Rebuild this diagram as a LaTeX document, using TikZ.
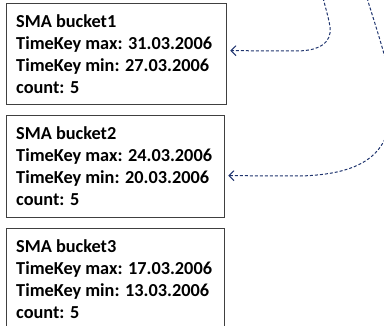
\documentclass[tikz,border=0pt]{standalone}
\usepackage{fontspec}
\setmainfont{Carlito}
\usetikzlibrary{arrows.meta}
\definecolor{linkblue}{RGB}{31,52,110}
\definecolor{framegray}{RGB}{64,64,64}
\tikzset{
  bucket/.style={draw=framegray, line width=1.3pt, anchor=north west, inner sep=0pt},
  info/.style={anchor=base west, align=left, inner sep=0pt,
    font=\fontsize{18.3}{21.7}\selectfont\bfseries},
  link/.style={draw=linkblue, line width=1pt, dash pattern=on 3pt off 2pt,
    -{Straight Barb[length=5pt,width=10pt]}}
}
\begin{document}
\begin{tikzpicture}[x=1pt,y=-1pt]
\useasboundingbox (0,0) rectangle (384,325);
% bucket frames
\node[bucket, minimum width=220pt, minimum height=101pt] (b1) at (6,3) {};
\node[bucket, minimum width=218pt, minimum height=102pt] (b2) at (6,115) {};
\node[bucket, minimum width=218pt, minimum height=110pt] (b3) at (6,228) {};
% bucket contents (anchored at the baseline of the last line)
\node[info] (t1) at (16,93) {SMA bucket1\\TimeKey max: 31.03.2006\\TimeKey min: 27.03.2006\\count: 5};
\node[info] (t2) at (16,205) {SMA bucket2\\TimeKey max: 24.03.2006\\TimeKey min: 20.03.2006\\count: 5};
\node[info] (t3) at (16,318) {SMA bucket3\\TimeKey max: 17.03.2006\\TimeKey min: 13.03.2006\\count: 5};
% incoming links
\coordinate (s1) at (323,-2);
\coordinate (s2) at (367,-2);
\draw[link] (s1) .. controls (329,20) and (331,28) .. (330,33)
  .. controls (328,46) and (315,51) .. (295,51)
  -- ([xshift=3pt,yshift=3.5pt]b1.east);
\draw[link] (s2) .. controls (380,40) and (392,75) .. (392,100)
  .. controls (392,145) and (375,174) .. (300,176)
  -- ([xshift=3pt,yshift=-9pt]b2.east);
\end{tikzpicture}
\end{document}
